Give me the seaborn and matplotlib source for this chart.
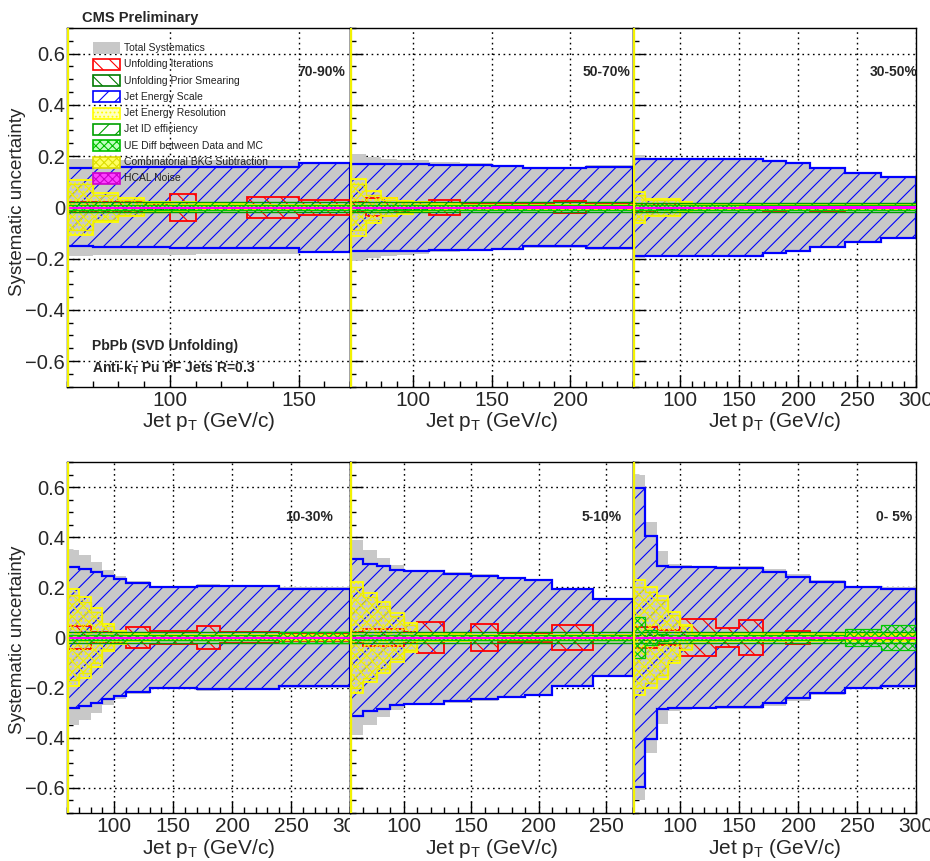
import numpy as np
import pandas as pd
import matplotlib
matplotlib.use("Agg")
import matplotlib.pyplot as plt
import seaborn as sns
from matplotlib.patches import Rectangle
from matplotlib.ticker import MultipleLocator, FuncFormatter
from matplotlib.transforms import Bbox, TransformedBbox

# ---------------------------------------------------------------- data
BIN_EDGES = [60, 70, 80, 90, 100, 110, 130, 150, 170, 190, 210, 240, 270, 300]
CENTRALITY = ["70-90%", "50-70%", "30-50%", "10-30%", "5-10%", "0- 5%"]
N_BINS = [8, 11, 13, 13, 12, 13]

LEGEND_LABELS = ["Total Systematics", "Unfolding Iterations", "Unfolding Prior Smearing",
                 "Jet Energy Scale", "Jet Energy Resolution", "Jet ID efficiency",
                 "UE Diff between Data and MC", "Combinatorial BKG Subtraction", "HCAL Noise"]

TOTAL = {
    "70-90%": [0.190, 0.186, 0.186, 0.186, 0.185, 0.183, 0.183, 0.178],
    "50-70%": [0.207, 0.196, 0.190, 0.186, 0.183, 0.176, 0.172, 0.167, 0.157, 0.157, 0.165],
    "30-50%": [0.203, 0.192, 0.192, 0.192, 0.192, 0.192, 0.192, 0.192, 0.182, 0.175, 0.157, 0.138, 0.122],
    "10-30%": [0.350, 0.330, 0.300, 0.270, 0.245, 0.225, 0.205, 0.205, 0.215, 0.210, 0.210, 0.200, 0.200],
    "5-10%": [0.388, 0.348, 0.318, 0.291, 0.271, 0.271, 0.260, 0.252, 0.243, 0.233, 0.199, 0.159],
    "0- 5%": [0.650, 0.460, 0.345, 0.295, 0.290, 0.285, 0.285, 0.285, 0.275, 0.255, 0.230, 0.205, 0.200],
}
ITERATIONS = {
    "70-90%": [0.020, 0.020, 0.020, 0.015, 0.054, 0.010, 0.040, 0.028],
    "50-70%": [0.020, 0.035, 0.035, 0.020, 0.020, 0.028, 0.012, 0.012, 0.012, 0.024, 0.012],
    "30-50%": [0.015, 0.015, 0.012, 0.012, 0.012, 0.010, 0.010, 0.010, 0.015, 0.010, 0.015, 0.010, 0.010],
    "10-30%": [0.046, 0.046, 0.020, 0.020, 0.020, 0.040, 0.025, 0.025, 0.045, 0.022, 0.022, 0.012, 0.012],
    "5-10%": [0.020, 0.035, 0.035, 0.035, 0.020, 0.061, 0.012, 0.053, 0.018, 0.018, 0.048, 0.010],
    "0- 5%": [0.040, 0.040, 0.030, 0.030, 0.074, 0.074, 0.036, 0.069, 0.015, 0.025, 0.010, 0.010, 0.010],
}
PRIOR = {
    "70-90%": [0.010, 0.010, 0.010, 0.008, 0.008, 0.008, 0.008, 0.008],
    "50-70%": [0.010, 0.010, 0.008, 0.008, 0.008, 0.008, 0.008, 0.008, 0.008, 0.008, 0.008],
    "30-50%": [0.010, 0.010, 0.008, 0.008, 0.008, 0.008, 0.008, 0.008, 0.008, 0.008, 0.008, 0.008, 0.008],
    "10-30%": [0.010, 0.010, 0.008, 0.008, 0.008, 0.008, 0.008, 0.008, 0.008, 0.008, 0.008, 0.008, 0.008],
    "5-10%": [0.010, 0.010, 0.008, 0.008, 0.008, 0.008, 0.008, 0.008, 0.008, 0.008, 0.008, 0.008],
    "0- 5%": [0.010, 0.010, 0.008, 0.008, 0.008, 0.008, 0.008, 0.008, 0.008, 0.008, 0.008, 0.008, 0.008],
}
JES = {
    "70-90%": [0.152, 0.156, 0.156, 0.156, 0.158, 0.158, 0.158, 0.174],
    "50-70%": [0.170, 0.170, 0.170, 0.170, 0.170, 0.166, 0.166, 0.161, 0.152, 0.152, 0.159],
    "30-50%": [0.188, 0.188, 0.188, 0.188, 0.188, 0.188, 0.188, 0.188, 0.179, 0.172, 0.154, 0.136, 0.119],
    "10-30%": [0.280, 0.272, 0.262, 0.245, 0.232, 0.218, 0.200, 0.200, 0.207, 0.207, 0.207, 0.195, 0.195],
    "5-10%": [0.313, 0.295, 0.287, 0.271, 0.264, 0.264, 0.255, 0.247, 0.238, 0.228, 0.194, 0.154],
    "0- 5%": [0.595, 0.405, 0.285, 0.280, 0.280, 0.280, 0.278, 0.276, 0.260, 0.243, 0.222, 0.200, 0.194],
}
JER = {
    "70-90%": [0.108, 0.057, 0.035, 0.020, 0.020, 0.012, 0.010, 0.010],
    "50-70%": [0.110, 0.062, 0.035, 0.026, 0.019, 0.012, 0.010, 0.008, 0.008, 0.008, 0.008],
    "30-50%": [0.060, 0.034, 0.034, 0.034, 0.020, 0.012, 0.010, 0.010, 0.010, 0.010, 0.010, 0.010, 0.010],
    "10-30%": [0.194, 0.162, 0.118, 0.052, 0.025, 0.012, 0.010, 0.010, 0.010, 0.010, 0.010, 0.010, 0.010],
    "5-10%": [0.222, 0.178, 0.141, 0.098, 0.057, 0.015, 0.012, 0.010, 0.010, 0.010, 0.010, 0.010],
    "0- 5%": [0.229, 0.200, 0.166, 0.101, 0.050, 0.015, 0.012, 0.012, 0.012, 0.012, 0.012, 0.015, 0.015],
}
JET_ID = {
    "70-90%": [0.020, 0.020, 0.020, 0.020, 0.020, 0.020, 0.020, 0.020],
    "50-70%": [0.020, 0.020, 0.020, 0.020, 0.020, 0.020, 0.020, 0.020, 0.020, 0.020, 0.020],
    "30-50%": [0.018, 0.018, 0.018, 0.018, 0.018, 0.018, 0.018, 0.018, 0.018, 0.018, 0.018, 0.018, 0.018],
    "10-30%": [0.020, 0.020, 0.020, 0.020, 0.020, 0.020, 0.020, 0.020, 0.020, 0.020, 0.020, 0.020, 0.020],
    "5-10%": [0.020, 0.020, 0.020, 0.020, 0.020, 0.020, 0.020, 0.020, 0.020, 0.020, 0.020, 0.020],
    "0- 5%": [0.020, 0.020, 0.020, 0.020, 0.020, 0.020, 0.020, 0.020, 0.020, 0.020, 0.020, 0.020, 0.020],
}
UE_DIFF = {
    "70-90%": [0.010, 0.010, 0.010, 0.010, 0.010, 0.010, 0.010, 0.010],
    "50-70%": [0.010, 0.010, 0.010, 0.010, 0.010, 0.010, 0.010, 0.010, 0.010, 0.010, 0.010],
    "30-50%": [0.010, 0.010, 0.010, 0.010, 0.010, 0.010, 0.010, 0.010, 0.010, 0.010, 0.010, 0.010, 0.010],
    "10-30%": [0.010, 0.010, 0.010, 0.010, 0.010, 0.010, 0.010, 0.010, 0.010, 0.010, 0.010, 0.020, 0.020],
    "5-10%": [0.010, 0.010, 0.010, 0.010, 0.010, 0.010, 0.010, 0.010, 0.010, 0.010, 0.010, 0.010],
    "0- 5%": [0.080, 0.030, 0.015, 0.010, 0.010, 0.010, 0.010, 0.010, 0.010, 0.010, 0.010, 0.032, 0.048],
}
COMB_BKG = {
    "70-90%": [0.090, 0.050, 0.030, 0.018, 0.015, 0.010, 0.008, 0.008],
    "50-70%": [0.090, 0.050, 0.030, 0.020, 0.015, 0.010, 0.008, 0.008, 0.008, 0.008, 0.008],
    "30-50%": [0.050, 0.030, 0.030, 0.030, 0.015, 0.010, 0.008, 0.008, 0.008, 0.008, 0.008, 0.008, 0.008],
    "10-30%": [0.170, 0.140, 0.100, 0.045, 0.020, 0.010, 0.008, 0.008, 0.008, 0.008, 0.008, 0.008, 0.008],
    "5-10%": [0.200, 0.160, 0.125, 0.085, 0.050, 0.012, 0.010, 0.010, 0.010, 0.010, 0.010, 0.010],
    "0- 5%": [0.200, 0.180, 0.150, 0.090, 0.045, 0.012, 0.010, 0.010, 0.010, 0.010, 0.010, 0.010, 0.010],
}
HCAL = {
    "70-90%": [0.003, 0.003, 0.003, 0.003, 0.003, 0.003, 0.003, 0.003],
    "50-70%": [0.003, 0.003, 0.003, 0.003, 0.003, 0.003, 0.003, 0.004, 0.004, 0.004, 0.004],
    "30-50%": [0.003, 0.003, 0.003, 0.003, 0.003, 0.003, 0.003, 0.004, 0.004, 0.004, 0.004, 0.004, 0.004],
    "10-30%": [0.003, 0.003, 0.003, 0.003, 0.003, 0.003, 0.003, 0.003, 0.003, 0.003, 0.003, 0.003, 0.003],
    "5-10%": [0.003, 0.003, 0.003, 0.003, 0.003, 0.003, 0.003, 0.003, 0.003, 0.003, 0.003, 0.003],
    "0- 5%": [0.003, 0.003, 0.003, 0.003, 0.003, 0.003, 0.003, 0.003, 0.003, 0.003, 0.003, 0.003, 0.003],
}

COMPONENTS = [TOTAL, ITERATIONS, PRIOR, JES, JER, JET_ID, UE_DIFF, COMB_BKG, HCAL]

# ---------------------------------------------------------------- styles
STYLES = [
    dict(facecolor="#c8c8c8", edgecolor="none", hatch=None, linewidth=0, zorder=1),
    dict(facecolor="none", edgecolor="#ff0000", hatch="\\\\", linewidth=1.3, zorder=3),
    dict(facecolor="none", edgecolor="#007a00", hatch="\\\\", linewidth=0.9, zorder=4),
    dict(facecolor="none", edgecolor="#0000ff", hatch="//", linewidth=1.6, zorder=2),
    dict(facecolor="none", edgecolor="#ffff00", hatch="....", linewidth=1.3, zorder=5),
    dict(facecolor="none", edgecolor="#00a000", hatch="//", linewidth=1.0, zorder=6),
    dict(facecolor="none", edgecolor="#00c800", hatch="xxxx", linewidth=0.9, zorder=7),
    dict(facecolor="none", edgecolor="#eeee00", hatch="xxx", linewidth=1.0, zorder=5.5),
    dict(facecolor="#ff00ff", edgecolor="#ff00ff", hatch=None, linewidth=0.7, zorder=9),
]
LEGEND_STYLES = [
    dict(facecolor="#c8c8c8", edgecolor="#c8c8c8", hatch=None, lw=0),
    dict(facecolor="white", edgecolor="#ff0000", hatch="\\\\", lw=1.2),
    dict(facecolor="white", edgecolor="#007a00", hatch="\\\\", lw=1.2),
    dict(facecolor="white", edgecolor="#0000ff", hatch="//", lw=1.2),
    dict(facecolor="#ffffc0", edgecolor="#ffff00", hatch="....", lw=1.2),
    dict(facecolor="white", edgecolor="#00a000", hatch="//", lw=1.2),
    dict(facecolor="#c0ffc0", edgecolor="#00c000", hatch="xxxx", lw=1.2),
    dict(facecolor="#ffff60", edgecolor="#dddd00", hatch="xxxx", lw=1.2),
    dict(facecolor="#ff40ff", edgecolor="#cc00cc", hatch="xxxx", lw=1.2),
]

sns.set_theme(style="ticks")
plt.rcParams["font.family"] = ["Liberation Sans", "DejaVu Sans"]
plt.rcParams["mathtext.fontset"] = "custom"
plt.rcParams["mathtext.rm"] = "Liberation Sans"
plt.rcParams["mathtext.bf"] = "Liberation Sans:bold"
plt.rcParams["hatch.linewidth"] = 0.8
plt.rcParams["axes.unicode_minus"] = True

W, H = 930, 861
fig = plt.figure(figsize=(W / 100, H / 100), dpi=100)


def fx(px):
    return px / W


def fy(py):
    return 1 - py / H


COL_X = [67, 350, 633]
COL_W = 283
ROWS = [(28, 386.7), (462, 813)]

axes = []
for i, cent in enumerate(CENTRALITY):
    r, c = divmod(i, 3)
    top, bot = ROWS[r]
    ax = fig.add_axes([fx(COL_X[c]), fy(bot), fx(COL_W), (bot - top) / H])
    axes.append(ax)
    nb = N_BINS[i]
    edges = np.array(BIN_EDGES[: nb + 1], dtype=float)
    for comp, st in zip(COMPONENTS, STYLES):
        v = np.array(comp[cent], dtype=float)
        ax.stairs(v, edges, baseline=-v, fill=True, **st)
    ax.axvline(edges[0], color="#f2f200", lw=2.4, zorder=20)
    ax.set_xlim(edges[0], edges[-1])
    ax.set_ylim(-0.7, 0.7)
    ax.xaxis.set_major_locator(MultipleLocator(50))
    ax.xaxis.set_minor_locator(MultipleLocator(10))
    ax.yaxis.set_major_locator(MultipleLocator(0.2))
    ax.yaxis.set_minor_locator(MultipleLocator(0.05))
    ax.grid(True, which="major", color="black", linestyle=(0, (1.2, 2.6)), lw=1.0)
    ax.set_axisbelow(True)
    ax.tick_params(which="both", direction="in", top=False, right=False,
                   labelsize=15, color="black", width=1.0)
    ax.tick_params(which="major", length=9, pad=3)
    ax.tick_params(which="minor", length=4.5)
    ax.tick_params(axis="y", pad=1.5, labelsize=14.5)
    for s in ax.spines.values():
        s.set_color("black")
        s.set_linewidth(1.0)
    ax.xaxis.set_major_formatter(FuncFormatter(lambda v, p: f"{v:g}"))
    if c == 0:
        ax.yaxis.set_major_formatter(
            FuncFormatter(lambda v, p: ("0" if abs(v) < 1e-9 else f"{v:.1f}").replace("-", "\u2212")))
    else:
        ax.set_yticklabels([])
    ax.set_xlabel("")
    ax.set_ylabel("")
    ax.patch.set_facecolor("white")
    # clip tick labels to the pad column like ROOT pads
    x0 = 0 if c == 0 else COL_X[c]
    x1 = COL_X[c] + COL_W if c < 2 else W
    clip = TransformedBbox(Bbox([[fx(x0), 0], [fx(x1), 1]]), fig.transFigure)
    for t in ax.xaxis.get_major_ticks():
        t.label1.set_clip_box(clip)
        t.label1.set_clip_on(True)
    # x label
    fig.text(fx(COL_X[c] + COL_W / 2), fy(bot + 35), "Jet p$_{\\mathregular{T}}$ (GeV/c)",
             ha="center", va="center", fontsize=15)

# centrality labels
CENT_POS = [(345, 72), (630, 72), (918, 72), (333, 517), (622, 517), (912, 517)]
for cent, (px, py) in zip(CENTRALITY, CENT_POS):
    fig.text(fx(px), fy(py), cent, ha="right", va="center", fontsize=10, fontweight="bold")

# y labels
for yc in (202, 640):
    fig.text(fx(17), fy(yc), "Systematic uncertainty", rotation=90, ha="center", va="center",
             fontsize=13.5)

fig.text(fx(82), fy(18), "CMS Preliminary", ha="left", va="center", fontsize=10.5,
         fontweight="bold")
fig.text(fx(92), fy(346), "PbPb (SVD Unfolding)", ha="left", va="center", fontsize=10,
         fontweight="bold")
fig.text(fx(92), fy(368), "Anti-k$_{\\mathbf{T}}$ Pu PF Jets R=0.3", ha="left", va="center",
         fontsize=10, fontweight="bold")

# legend
LEG_Y = [48, 64.3, 80.6, 96.9, 113.2, 129.5, 145.8, 162.1, 178.4]
for lab, st, yc in zip(LEGEND_LABELS, LEGEND_STYLES, LEG_Y):
    rect = Rectangle((fx(93), fy(yc + 5.5)), fx(27), 11 / H, transform=fig.transFigure,
                     facecolor=st["facecolor"], edgecolor=st["edgecolor"], hatch=st["hatch"],
                     linewidth=st["lw"], zorder=30)
    fig.add_artist(rect)
    fig.text(fx(124), fy(yc), lab, ha="left", va="center", fontsize=7.5, color="#222222",
             zorder=31)

fig.savefig("out.png", dpi=100)
